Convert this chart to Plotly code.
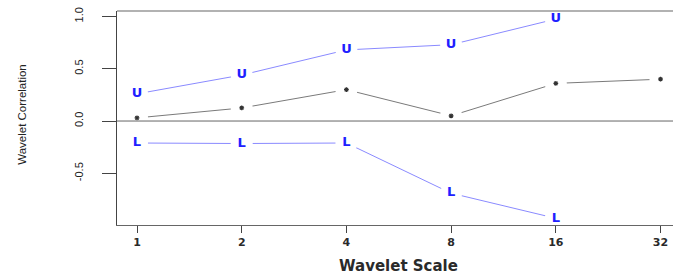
import plotly.graph_objects as go

scales = [1, 2, 4, 8, 16, 32]
scale_labels = ["1", "2", "4", "8", "16", "32"]
corr = [0.03, 0.125, 0.30, 0.05, 0.36, 0.40]
upper_scales = [1, 2, 4, 8, 16]
upper = [0.26, 0.44, 0.68, 0.73, 0.975]
lower_scales = [1, 2, 4, 8, 16]
lower = [-0.21, -0.215, -0.21, -0.69, -0.93]
ytick_vals = [-0.5, 0.0, 0.5, 1.0]
ytick_text = ["-0.5", "0.0", "0.5", "1.0"]

W, H = 673, 275
L, R, T, B = 117, 0, 11, 50

fig = go.Figure()

line_blue = "#8a8aff"
txt_blue = "#2020ff"
gap = dict(size=22, color="white", symbol="circle", line=dict(width=0))

# lines with gaps (white discs under the glyphs)
fig.add_trace(go.Scatter(x=upper_scales, y=upper, mode="lines+markers",
                         line=dict(color=line_blue, width=1), marker=gap))
fig.add_trace(go.Scatter(x=lower_scales, y=lower, mode="lines+markers",
                         line=dict(color=line_blue, width=1), marker=gap))
fig.add_trace(go.Scatter(x=scales, y=corr, mode="lines+markers",
                         line=dict(color="#7a7a7a", width=1), marker=gap))

# glyphs
fig.add_trace(go.Scatter(x=upper_scales, y=upper, mode="text", text=["<b>U</b>"] * len(upper),
                         textposition="middle center",
                         textfont=dict(family="DejaVu Sans", size=13, color=txt_blue)))
fig.add_trace(go.Scatter(x=lower_scales, y=lower, mode="text", text=["<b>L</b>"] * len(lower),
                         textposition="middle center",
                         textfont=dict(family="DejaVu Sans", size=13, color=txt_blue)))
fig.add_trace(go.Scatter(x=scales, y=corr, mode="markers",
                         marker=dict(symbol="asterisk-open", size=4, color="#333333",
                                     line=dict(color="#333333", width=1.2))))

fig.update_layout(
    width=W, height=H,
    margin=dict(l=L, r=R, t=T, b=B),
    paper_bgcolor="white", plot_bgcolor="white",
    showlegend=False,
    xaxis=dict(type="log", range=[-0.0575, 1.541],
               tickvals=scales, ticktext=["<b>%s</b>" % s for s in scale_labels],
               showgrid=False, zeroline=False,
               showline=True, linecolor="#666666", linewidth=1,
               ticks="outside", ticklen=7, tickcolor="#444444",
               tickfont=dict(family="DejaVu Sans", size=11, color="#2a2a2a")),
    yaxis=dict(range=[-0.994, 1.052],
               tickvals=ytick_vals, ticktext=ytick_text, tickangle=-90,
               showgrid=False, zeroline=False,
               showline=True, linecolor="#444444", linewidth=1,
               ticks="outside", ticklen=14, tickcolor="#444444",
               ticklabelstandoff=15,
               tickfont=dict(family="Liberation Sans", size=11, color="#222222")),
    shapes=[
        dict(type="line", xref="paper", yref="y", x0=0, x1=1, y0=0, y1=0,
             line=dict(color="#666666", width=1), layer="above"),
        dict(type="line", xref="paper", yref="paper", x0=0, x1=1, y0=1, y1=1,
             line=dict(color="#999999", width=1.5), layer="above"),
    ],
    annotations=[
        dict(text="Wavelet Correlation", xref="paper", yref="paper",
             x=(22 - L) / (W - L - R), y=0.515, textangle=-90, showarrow=False,
             xanchor="center", yanchor="middle",
             font=dict(family="Liberation Sans", size=11.5, color="#222222")),
        dict(text="<b>Wavelet Scale</b>", xref="paper", yref="paper",
             x=(398 - L) / (W - L - R), y=(225 - 266) / (H - T - B), showarrow=False,
             xanchor="center", yanchor="middle",
             font=dict(family="DejaVu Sans", size=15, color="#2a2a2a")),
    ],
)

fig.write_html("out.html", config={"displayModeBar": False},
               post_script="document.body.style.margin='0';document.body.style.overflow='hidden';")
